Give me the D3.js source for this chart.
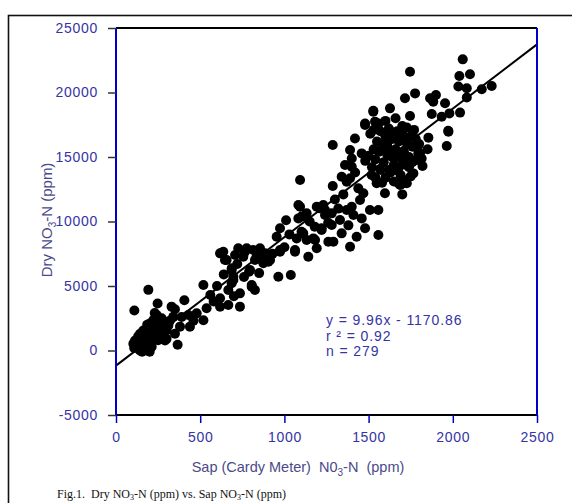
<!DOCTYPE html>
<html>
<head>
<meta charset="utf-8">
<script src="https://cdn.jsdelivr.net/npm/d3@7"></script>
<style>
  body { margin: 0; background: #fff; }
  svg { display: block; }
  text { white-space: pre; }
</style>
</head>
<body>
<div id="chart"></div>
<script>
// Sap (Cardy meter) NO3-N readings, ppm
const sapValues = [
  109,192,247,350,406,366,291,301,380,439,519,538,519,430,479,340,271,242,222,202,
  162,143,113,103,132,162,202,222,182,152,261,251,281,311,300,132,122,172,212,192,
  232,262,212,172,142,108,155,185,250,320,230,290,175,125,200,270,330,390,460,350,
  618,657,637,687,697,687,667,618,618,667,736,736,806,825,796,964,1038,766,835,905,
  875,974,1063,1142,707,726,776,815,855,885,915,756,825,875,647,687,790,697,806,954,
  974,974,1073,1112,1182,1192,1132,1063,1221,1261,600,560,640,720,760,850,930,1000,700,580,
  1093,1083,1132,1083,1211,1241,1093,1102,1192,1231,1241,1281,1370,1400,1102,1172,1221,1281,1330,1340,
  1291,1390,1429,1479,1459,1508,1558,1558,1287,1287,1419,1390,1400,1360,1400,1459,1390,1370,1439,1449,
  1469,1340,1300,1350,1420,1150,1260,1320,1180,1030,1010,1380,1410,
  2059,1746,2039,2102,2033,2083,2172,2231,2083,1776,1716,1865,1900,1884,1954,1746,1875,1934,1980,2043,
  1627,1528,1479,1538,1727,1973,1855,1964,1795,1815,1766,1727,1695,1974,1805,1785,1687,1597,1518,1548,
  1677,1479,1528,
  1520,1540,1560,1580,1600,1620,1640,1660,1680,1700,1720,1740,1760,1780,1550,1570,1590,1610,1630,1650,
  1670,1690,1710,1730,1750,1530,1510,1600,1640,1660,1680,1700,1720,1580,1620,1560,1650,1700,1740,1770,
  1790,1540,1610,1670,1630,1590,1750,1710,1650,1570,1690,1620,1760,1530,1600,1680,1500,1660,1800,1820,
  1850,1480,1700
];
// Dry NO3-N, ppm
const dryValues = [
  3100,4700,3650,3200,3900,450,780,1550,1850,1850,2350,3270,5080,2750,2880,2620,2500,2750,2360,2100,
  1550,1290,780,520,260,390,650,1030,1030,900,1290,1550,1940,1940,900,1100,500,150,300,1300,
  1800,2200,1700,600,0,200,-100,2000,800,2300,2900,2200,1200,650,-100,1900,3400,2600,2300,1300,
  7530,7020,7660,6370,5720,5210,4690,4050,3400,3530,3400,4430,4950,4690,6240,5720,5850,7660,7270,6880,
  7000,7660,7660,7270,7400,7920,7920,7790,7920,7530,7020,7270,7020,6760,7020,6240,6100,5470,5080,8820,
  9470,7790,8690,9080,8560,7920,8560,7790,9340,8430,5000,4300,5900,6700,5700,6000,7500,8000,4200,3800,
  13220,11280,10630,10240,11020,10890,11150,10380,11150,11280,10500,10630,10890,11150,9210,8690,9470,9730,10120,9080,
  8430,8040,8820,9470,10240,10890,10890,8950,15930,12750,16440,15540,14890,14380,14250,15280,13350,13090,12570,11670,
  12190,13470,11700,12100,13800,10000,9900,11000,9600,9000,10100,9700,10500,
  22570,21610,21280,21410,20460,20330,20250,20500,19610,19930,19550,19550,19810,19290,19160,18180,18330,18120,18380,18440,
  18770,18590,17600,17740,17290,17040,16500,15850,15280,14890,13730,12960,12900,16960,15280,14770,12830,12190,13600,12960,
  12960,17480,18510,
  14200,14800,15400,16000,16600,17200,15000,15600,16200,16800,14400,15000,15800,16400,16200,17000,14600,15200,13800,14400,
  17000,13600,15400,16000,16600,15600,16800,13400,16400,14000,15000,17400,13200,13000,14000,17600,16900,14800,14200,17100,
  15700,13400,16000,15300,16700,15700,13500,16300,13100,14000,16500,15600,14600,17100,17800,14200,15100,18000,16000,14300,
  15600,14700,12100
];
const xTicks = [0, 500, 1000, 1500, 2000, 2500];
const yTicks = [-5000, 0, 5000, 10000, 15000, 20000, 25000];
const slope = 9.96, intercept = -1170.86;
const statLines = ["y = 9.96x - 1170.86", "r ² = 0.92", "n = 279"];

const width = 572, height = 503;
const margin = { top: 28, right: 35, bottom: 88, left: 116 };
const plotW = 537 - margin.left;
const plotH = 415 - margin.top;
const blue = "#0000c8";
const textBlue = "#3434a4";

const svg = d3.select("#chart").append("svg")
  .attr("width", width)
  .attr("height", height)
  .style("font-family", "Arial, 'Liberation Sans', sans-serif");

// outer frame
svg.append("rect")
  .attr("x", 8.5).attr("y", 15.5)
  .attr("width", 700).attr("height", 700)
  .attr("fill", "none").attr("stroke", "#111").attr("stroke-width", 1.6);

const x = d3.scaleLinear().domain([0, 2500]).range([0, plotW]);
const y = d3.scaleLinear().domain([-5000, 25000]).range([plotH, 0]);

const g = svg.append("g").attr("transform", `translate(${margin.left},${margin.top})`);

// points
const pts = sapValues.map((v, i) => ({ sap: v, dry: dryValues[i] }));
g.append("g").selectAll("circle")
  .data(pts)
  .enter().append("circle")
  .attr("cx", d => x(d.sap))
  .attr("cy", d => y(d.dry))
  .attr("r", 5)
  .attr("fill", "#000");

// regression line
g.append("line")
  .attr("x1", x(0)).attr("y1", y(intercept))
  .attr("x2", x(2500)).attr("y2", y(slope * 2500 + intercept))
  .attr("stroke", "#000").attr("stroke-width", 2);

// frame of plot: top and bottom black, left and right blue
g.append("line").attr("x1", 0).attr("x2", plotW).attr("y1", 0).attr("y2", 0)
  .attr("stroke", "#000").attr("stroke-width", 2);
g.append("line").attr("x1", 0).attr("x2", plotW).attr("y1", plotH).attr("y2", plotH)
  .attr("stroke", "#000").attr("stroke-width", 2);
g.append("line").attr("x1", 0).attr("x2", 0).attr("y1", 0).attr("y2", plotH)
  .attr("stroke", blue).attr("stroke-width", 2);
g.append("line").attr("x1", plotW).attr("x2", plotW).attr("y1", 0).attr("y2", plotH)
  .attr("stroke", blue).attr("stroke-width", 2);

// axes (plain hyphen for negatives, as in the original)
const fmt = d => String(d);
const xAxis = g.append("g").attr("transform", `translate(0,${plotH})`)
  .call(d3.axisBottom(x).tickValues(xTicks).tickSize(8).tickPadding(9).tickFormat(fmt));
xAxis.select(".domain").remove();
xAxis.selectAll("line").attr("stroke", blue).attr("stroke-width", 1.5);
xAxis.selectAll("text").attr("fill", textBlue)
  .style("font-size", "14px").style("letter-spacing", "0.7px");

const yAxis = g.append("g")
  .call(d3.axisLeft(y).tickValues(yTicks).tickSize(8).tickPadding(10).tickFormat(fmt));
yAxis.select(".domain").remove();
yAxis.selectAll("line").attr("stroke", "#333").attr("stroke-width", 1.5);
yAxis.selectAll("text").attr("fill", textBlue)
  .style("font-size", "14px").style("letter-spacing", "0.7px");

// axis titles
const xt = svg.append("text")
  .attr("x", 298).attr("y", 472)
  .attr("text-anchor", "middle")
  .attr("fill", "#4a4a8a")
  .style("font-size", "14.5px");
xt.append("tspan").text("Sap (Cardy Meter)  N0");
xt.append("tspan").attr("dy", 4).style("font-size", "10px").text("3");
xt.append("tspan").attr("dy", -4).text("-N  (ppm)");

const yt = svg.append("text")
  .attr("transform", "translate(52,220) rotate(-90)")
  .attr("text-anchor", "middle")
  .attr("fill", "#4a4a8a")
  .style("font-size", "15px");
yt.append("tspan").text("Dry NO");
yt.append("tspan").attr("dy", 4).style("font-size", "10px").text("3");
yt.append("tspan").attr("dy", -4).text("-N (ppm)");

// regression stats
svg.append("g").selectAll("text")
  .data(statLines)
  .enter().append("text")
  .attr("x", 326)
  .attr("y", (d, i) => 325 + i * 15.5)
  .attr("fill", textBlue)
  .style("font-size", "14px")
  .style("letter-spacing", "0.9px")
  .text(d => d);

// caption
const cap = svg.append("text")
  .attr("x", 57).attr("y", 498)
  .attr("fill", "#111")
  .style("font-family", "'Liberation Serif', 'Times New Roman', serif")
  .style("font-size", "12px");
cap.append("tspan").text("Fig.1.  Dry NO");
cap.append("tspan").attr("dy", 2).style("font-size", "8px").text("3");
cap.append("tspan").attr("dy", -2).text("-N (ppm) vs. Sap NO");
cap.append("tspan").attr("dy", 2).style("font-size", "8px").text("3");
cap.append("tspan").attr("dy", -2).text("-N (ppm)");
</script>
</body>
</html>
